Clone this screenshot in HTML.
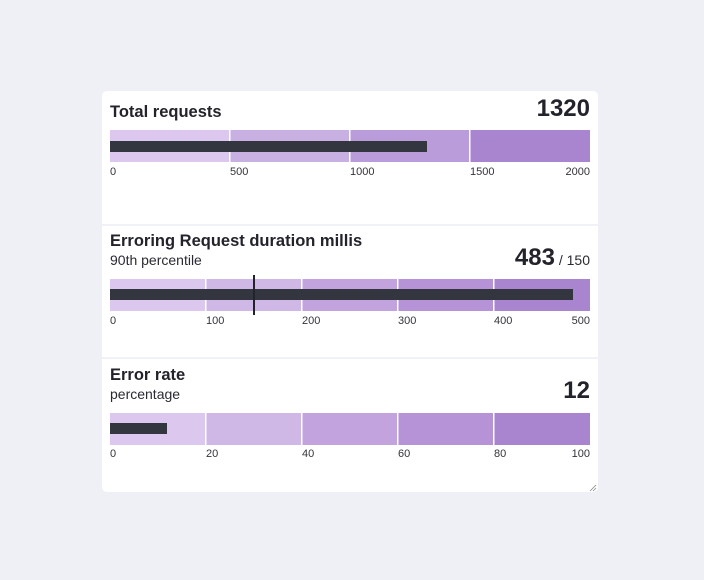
<!DOCTYPE html>
<html><head><meta charset="utf-8"><style>
html,body{margin:0;padding:0;background:#eef0f5;width:704px;height:580px;overflow:hidden}
svg{display:block}
text{font-family:"Liberation Sans",sans-serif;fill:#23242b}
.t{font-size:16.5px;font-weight:bold}
.s{font-size:14px;fill:#2a2b32}
.v{font-size:24px;font-weight:bold}
.k{font-size:11px;fill:#33343b}
</style></head><body>
<svg width="704" height="580" viewBox="0 0 704 580">
<rect x="0" y="0" width="704" height="580" fill="#eef0f5"/>
<rect x="102" y="91" width="496" height="401" rx="5" fill="#ffffff"/>
<rect x="102" y="224" width="496" height="2" fill="#f0f2f7"/>
<rect x="102" y="357" width="496" height="2" fill="#f0f2f7"/>
<!-- panel 1 -->
<text class="t" x="110" y="117">Total requests</text>
<text class="v" x="590" y="116" text-anchor="end">1320</text>
<rect x="110" y="130" width="120" height="32" fill="#dcc8ef"/>
<rect x="230" y="130" width="120" height="32" fill="#c9b0e2"/>
<rect x="350" y="130" width="120" height="32" fill="#bb9cda"/>
<rect x="470" y="130" width="120" height="32" fill="#a985d0"/>
<rect x="229" y="130" width="1.5" height="32" fill="#fff"/>
<rect x="349" y="130" width="1.5" height="32" fill="#fff"/>
<rect x="469" y="130" width="1.5" height="32" fill="#fff"/>
<rect x="110" y="141" width="317" height="11" fill="#33353f"/>
<text class="k" x="110" y="175">0</text>
<text class="k" x="230" y="175">500</text>
<text class="k" x="350" y="175">1000</text>
<text class="k" x="470" y="175">1500</text>
<text class="k" x="590" y="175" text-anchor="end">2000</text>
<!-- panel 2 -->
<text class="t" x="110" y="246">Erroring Request duration millis</text>
<text class="s" x="110" y="265">90th percentile</text>
<text x="590" y="265" text-anchor="end"><tspan class="v">483</tspan><tspan class="s"> / 150</tspan></text>
<rect x="110" y="279" width="96" height="32" fill="#dcc8ef"/>
<rect x="206" y="279" width="96" height="32" fill="#d0b8e6"/>
<rect x="302" y="279" width="96" height="32" fill="#c3a3dd"/>
<rect x="398" y="279" width="96" height="32" fill="#b693d7"/>
<rect x="494" y="279" width="96" height="32" fill="#a985d0"/>
<rect x="205" y="279" width="1.5" height="32" fill="#fff"/>
<rect x="301" y="279" width="1.5" height="32" fill="#fff"/>
<rect x="397" y="279" width="1.5" height="32" fill="#fff"/>
<rect x="493" y="279" width="1.5" height="32" fill="#fff"/>
<rect x="110" y="289" width="463" height="11" fill="#33353f"/>
<rect x="253" y="275" width="2" height="40" fill="#23242b"/>
<text class="k" x="110" y="324">0</text>
<text class="k" x="206" y="324">100</text>
<text class="k" x="302" y="324">200</text>
<text class="k" x="398" y="324">300</text>
<text class="k" x="494" y="324">400</text>
<text class="k" x="590" y="324" text-anchor="end">500</text>
<!-- panel 3 -->
<text class="t" x="110" y="380">Error rate</text>
<text class="s" x="110" y="399">percentage</text>
<text class="v" x="590" y="398" text-anchor="end">12</text>
<rect x="110" y="413" width="96" height="32" fill="#dcc8ef"/>
<rect x="206" y="413" width="96" height="32" fill="#d0b8e6"/>
<rect x="302" y="413" width="96" height="32" fill="#c3a3dd"/>
<rect x="398" y="413" width="96" height="32" fill="#b693d7"/>
<rect x="494" y="413" width="96" height="32" fill="#a985d0"/>
<rect x="205" y="413" width="1.5" height="32" fill="#fff"/>
<rect x="301" y="413" width="1.5" height="32" fill="#fff"/>
<rect x="397" y="413" width="1.5" height="32" fill="#fff"/>
<rect x="493" y="413" width="1.5" height="32" fill="#fff"/>
<rect x="110" y="423" width="57" height="11" fill="#33353f"/>
<text class="k" x="110" y="457">0</text>
<text class="k" x="206" y="457">20</text>
<text class="k" x="302" y="457">40</text>
<text class="k" x="398" y="457">60</text>
<text class="k" x="494" y="457">80</text>
<text class="k" x="590" y="457" text-anchor="end">100</text>
<path d="M590 491 L596 485 M593 491 L596 488" stroke="#888" stroke-width="0.8"/>
</svg>
</body></html>
